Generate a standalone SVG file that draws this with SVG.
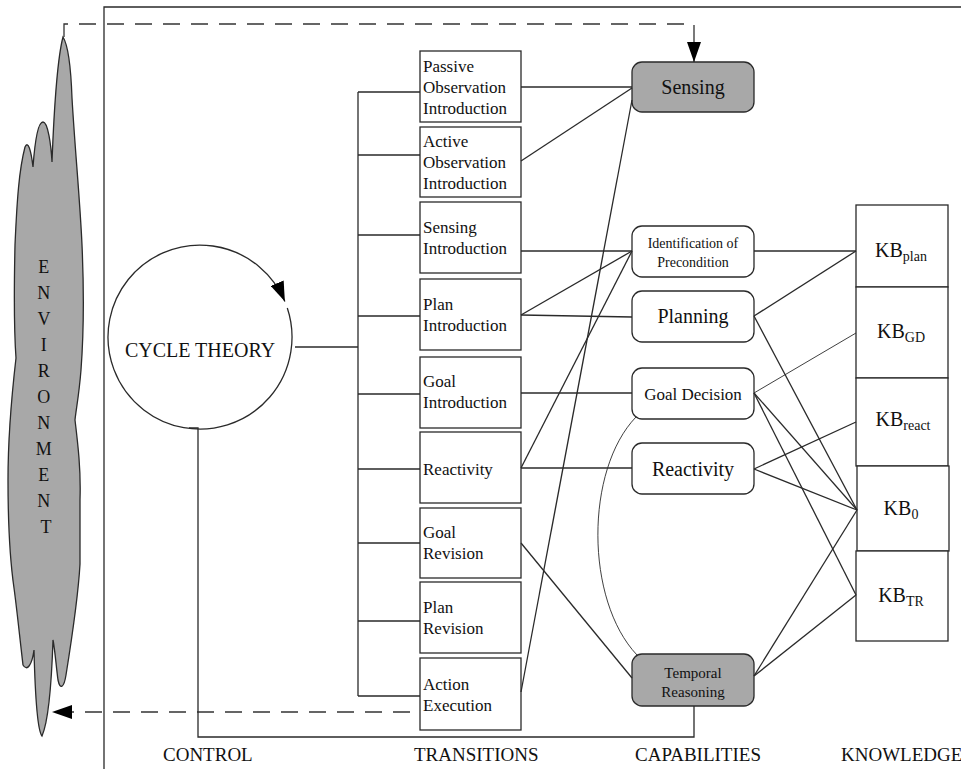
<svg xmlns="http://www.w3.org/2000/svg" width="961" height="769" viewBox="0 0 961 769">
<style>
  .ln{fill:none;stroke:#2a2a2a;stroke-width:1.3}
  .thin{fill:none;stroke:#2a2a2a;stroke-width:0.9}
  .dash{fill:none;stroke:#333;stroke-width:1.3;stroke-dasharray:17 11}
  .box{fill:#fff;stroke:#2a2a2a;stroke-width:1.3}
  .cap{fill:#fff;stroke:#2a2a2a;stroke-width:1.3}
  .gray{fill:#a8a8a8;stroke:#2a2a2a;stroke-width:1.3}
  text{font-family:"Liberation Serif","Times New Roman",serif;fill:#111}
  .t{font-size:17px}
  .c{text-anchor:middle}
  .lab{font-size:19px}
  .kb{font-size:20px;text-anchor:middle}
  .sub{font-size:14px}
</style>
<defs>
  <marker id="ah" markerUnits="userSpaceOnUse" markerWidth="21" markerHeight="14" refX="20" refY="7" orient="auto">
    <path d="M0,0 L20,7 L0,14 Z" fill="#000"/>
  </marker>
</defs>
<rect width="961" height="769" fill="#fff"/>

<!-- frame -->
<g id="frame">
  <path class="ln" d="M104,769 L104,7 L961,7"/>
</g>

<!-- environment -->
<g id="environment">
  <path class="gray" d="M63,37 C68,45 71,70 72,98 C75,150 80,200 82,245 C84,290 84,330 81,370 C79,395 76,410 75,420 C78,445 81,470 80,500 C80,530 80,550 80,564 C78,600 70,650 66,675 C64,688 60,690 58,680 C56,665 55,650 53,640 C52,670 49,720 42,736 C37,730 35,690 34,650 C32,665 27,672 23,665 C20,640 17,610 14,588 C10,560 8,520 8,480 C8,440 10,410 16,358 C14,330 14,290 15,245 C17,200 19,170 25,147 C28,140 31,150 33,167 C35,140 38,122 43,122 C48,122 51,145 52,162 C54,110 57,60 63,37 Z"/>
  <text class="c" font-size="18" x="46">
    <tspan x="46" y="273">E</tspan>
    <tspan x="46" y="299">N</tspan>
    <tspan x="46" y="325">V</tspan>
    <tspan x="46" y="351">I</tspan>
    <tspan x="46" y="377">R</tspan>
    <tspan x="46" y="403">O</tspan>
    <tspan x="46" y="429">N</tspan>
    <tspan x="46" y="455">M</tspan>
    <tspan x="46" y="481">E</tspan>
    <tspan x="46" y="507">N</tspan>
    <tspan x="46" y="533">T</tspan>
  </text>
</g>

<!-- cycle theory -->
<g id="cycle">
  <path class="ln" d="M287.3,308 A92,92 0 1 1 284.9,301.6" marker-end="url(#ah)"/>
  <text class="c" x="200" y="357" font-size="20">CYCLE THEORY</text>
</g>

<!-- transitions -->
<g id="t-passive"><rect class="box" x="420" y="51" width="101" height="71"/>
  <text class="t" x="423" y="72">Passive</text><text class="t" x="423" y="93">Observation</text><text class="t" x="423" y="114">Introduction</text></g>
<g id="t-active"><rect class="box" x="420" y="127" width="101" height="70"/>
  <text class="t" x="423" y="147">Active</text><text class="t" x="423" y="168">Observation</text><text class="t" x="423" y="189">Introduction</text></g>
<g id="t-sensing"><rect class="box" x="420" y="202" width="101" height="71"/>
  <text class="t" x="423" y="233">Sensing</text><text class="t" x="423" y="254">Introduction</text></g>
<g id="t-plan"><rect class="box" x="420" y="279" width="101" height="71"/>
  <text class="t" x="423" y="310">Plan</text><text class="t" x="423" y="331">Introduction</text></g>
<g id="t-goal"><rect class="box" x="420" y="357" width="101" height="71"/>
  <text class="t" x="423" y="387">Goal</text><text class="t" x="423" y="408">Introduction</text></g>
<g id="t-reactivity"><rect class="box" x="420" y="432" width="101" height="71"/>
  <text class="t" x="423" y="475">Reactivity</text></g>
<g id="t-goalrev"><rect class="box" x="420" y="508" width="101" height="70"/>
  <text class="t" x="423" y="538">Goal</text><text class="t" x="423" y="559">Revision</text></g>
<g id="t-planrev"><rect class="box" x="420" y="582" width="101" height="71"/>
  <text class="t" x="423" y="613">Plan</text><text class="t" x="423" y="634">Revision</text></g>
<g id="t-action"><rect class="box" x="420" y="658" width="101" height="72"/>
  <text class="t" x="423" y="690">Action</text><text class="t" x="423" y="711">Execution</text></g>

<!-- capabilities -->
<g id="c-sensing"><rect class="gray" x="632" y="62" width="122" height="50" rx="10"/>
  <text class="c" x="693" y="94" font-size="20">Sensing</text></g>
<g id="c-ident"><rect class="cap" x="632" y="226" width="122" height="51" rx="10"/>
  <text class="c" x="693" y="248" font-size="14">Identification of</text><text class="c" x="693" y="267" font-size="14">Precondition</text></g>
<g id="c-planning"><rect class="cap" x="632" y="291" width="122" height="51" rx="10"/>
  <text class="c" x="693" y="323" font-size="20">Planning</text></g>
<g id="c-goaldec"><rect class="cap" x="632" y="368" width="122" height="51" rx="10"/>
  <text class="c" x="693" y="400" font-size="17">Goal Decision</text></g>
<g id="c-reactivity"><rect class="cap" x="632" y="443" width="122" height="51" rx="10"/>
  <text class="c" x="693" y="476" font-size="20">Reactivity</text></g>
<g id="c-temporal"><rect class="gray" x="632" y="654" width="122" height="52" rx="10"/>
  <text class="c" x="693" y="678" font-size="15">Temporal</text><text class="c" x="693" y="697" font-size="15">Reasoning</text></g>

<!-- knowledge -->
<g id="kb-plan"><rect class="box" x="856" y="205" width="92" height="82"/>
  <text class="kb" x="901" y="257">KB<tspan class="sub" dy="4">plan</tspan></text></g>
<g id="kb-gd"><rect class="box" x="856" y="287" width="92" height="91"/>
  <text class="kb" x="901" y="338">KB<tspan class="sub" dy="4">GD</tspan></text></g>
<g id="kb-react"><rect class="box" x="856" y="378" width="92" height="88"/>
  <text class="kb" x="903" y="426">KB<tspan class="sub" dy="4">react</tspan></text></g>
<g id="kb-0"><rect class="box" x="857" y="466" width="92" height="85"/>
  <text class="kb" x="901" y="515">KB<tspan class="sub" dy="4">0</tspan></text></g>
<g id="kb-tr"><rect class="box" x="856" y="551" width="92" height="90"/>
  <text class="kb" x="901" y="602">KB<tspan class="sub" dy="4">TR</tspan></text></g>

<!-- connectors -->
<g id="connectors">
  <path class="dash" d="M64,37 L64,24 L694,24 L694,62" marker-end="url(#ah)"/>
  <path class="dash" d="M410,712 L52,712" marker-end="url(#ah)"/>
  <path class="ln" d="M295,347 L358,347"/>
  <path class="ln" d="M358,92 L358,696"/>
  <path class="ln" d="M358,92 H420 M358,155 H420 M358,235 H420 M358,316 H420 M358,394 H420 M358,469 H420 M358,543 H420 M358,621 H420 M358,696 H420"/>
  <path class="ln" d="M189,428 L198,428 L198,737 L694,737 L694,706"/>
  <path class="ln" d="M521,87 L632,87"/>
  <path class="ln" d="M521,161 L632,88"/>
  <path class="ln" d="M521,692 L632,100"/>
  <path class="ln" d="M521,251 L632,251"/>
  <path class="ln" d="M521,315 L632,251"/>
  <path class="ln" d="M521,315 L632,317"/>
  <path class="ln" d="M521,468 L632,251"/>
  <path class="ln" d="M521,468 L632,468"/>
  <path class="ln" d="M521,393 L632,393"/>
  <path class="ln" d="M521,543 L632,678"/>
  <path class="ln" d="M754,251 L856,251"/>
  <path class="ln" d="M754,316 L856,251"/>
  <path class="ln" d="M754,316 L857,510"/>
  <path class="thin" d="M754,393 L856,333"/>
  <path class="ln" d="M754,393 L857,510"/>
  <path class="ln" d="M754,393 L856,595"/>
  <path class="ln" d="M754,469 L856,422"/>
  <path class="ln" d="M754,469 L857,510"/>
  <path class="ln" d="M754,676 L857,510"/>
  <path class="ln" d="M754,676 L856,595"/>
  <path class="thin" d="M636,417 C585,470 585,600 637,655"/>
</g>

<!-- labels -->
<g id="labels">
  <text class="lab" x="163" y="761">CONTROL</text>
  <text class="lab" x="414" y="761">TRANSITIONS</text>
  <text class="lab" x="635" y="761">CAPABILITIES</text>
  <text class="lab" x="841" y="761">KNOWLEDGE</text>
</g>
</svg>
